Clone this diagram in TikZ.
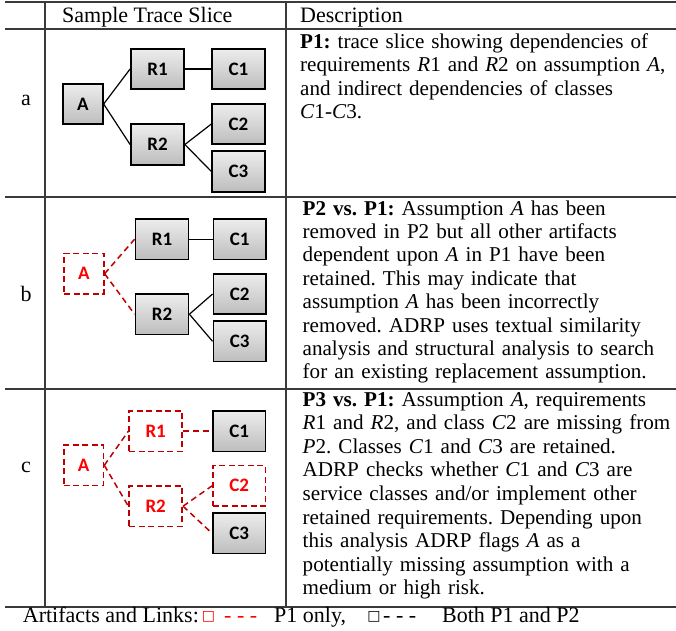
\documentclass[tikz,border=0pt]{standalone}
\usepackage{fontspec}
\setmainfont{Liberation Serif}
\newfontfamily\boxfont{Carlito}
\newfontfamily\symfont{DejaVu Sans}
\definecolor{dred}{HTML}{C00000}
\definecolor{lred}{HTML}{FF0000}
\definecolor{rulec}{HTML}{3A3A3A}
\definecolor{boxtop}{HTML}{EDEDED}
\definecolor{boxbot}{HTML}{BDBDBD}
\frenchspacing
\begin{document}
\begin{tikzpicture}[x=1pt,y=-1pt,
  bxfont/.style={font=\boxfont\bfseries\fontsize{19}{19}\selectfont},
  art/.style={bxfont,draw=black,line width=1.8pt,top color=boxtop,bottom color=boxbot,inner sep=0pt},
  gone/.style={bxfont,draw=dred,line width=1.7pt,dash pattern=on 6pt off 3.5pt,text=lred,inner sep=0pt},
  szA/.style={minimum width=39.5pt,minimum height=40.5pt},
  szR/.style={minimum width=53pt,minimum height=40.5pt},
  szC/.style={minimum width=52.5pt,minimum height=40.5pt},
  link/.style={draw=black,line width=1.2pt},
  glink/.style={draw=dred,line width=1.5pt,dash pattern=on 6pt off 4pt},
  tbl/.style={draw=rulec,line width=1.3pt},
  txt/.style={font=\fontsize{22}{23.5}\selectfont,inner sep=0pt},
  desc/.style={font=\fontsize{21.1}{23.4}\selectfont,inner sep=0pt,anchor=base west,text width=500pt,align=left},
  sq/.style={font=\symfont\fontsize{14}{14}\selectfont,inner sep=0pt},
]
\useasboundingbox (0,0) rectangle (676,630);

% table rules
\draw[tbl] (5,2) -- (676,2);
\draw[tbl] (5,29) -- (676,29);
\draw[tbl] (5,197) -- (676,197);
\draw[tbl] (5,389) -- (676,389);
\draw[tbl] (5,607) -- (676,607);
\draw[tbl] (45,2) -- (45,607);
\draw[tbl] (286,2) -- (286,607);

% header
\node[txt,anchor=base west] (h1) at (62,22) {Sample Trace Slice};
\node[txt,anchor=base west] (h2) at (300,22) {Description};

% row labels
\node[txt,anchor=base] (la) at (26,105) {a};
\node[txt,anchor=base] (lb) at (26,301) {b};
\node[txt,anchor=base] (lc) at (26,472) {c};

% row a
\node[art,szA] (aA) at (83,104) {A};
\node[art,szR] (aR1) at (157.5,69) {R1};
\node[art,szC] (aC1) at (238.5,69) {C1};
\node[art,szR] (aR2) at (157.5,144.5) {R2};
\node[art,szC] (aC2) at (238.5,124) {C2};
\node[art,szC] (aC3) at (238.5,171.5) {C3};
\draw[link] (aA.east) -- (aR1.west);
\draw[link] (aA.east) -- (aR2.west);
\draw[link] (aR1.east) -- (aC1.west);
\draw[link] (aR2.east) -- (aC2.west);
\draw[link] (aR2.east) -- (aC3.west);

% row b
\node[gone,szA] (bA) at (84,273.7) {A};
\node[art,szR] (bR1) at (162,239.2) {R1};
\node[art,szC] (bC1) at (239.7,239.2) {C1};
\node[art,szR] (bR2) at (162,314.2) {R2};
\node[art,szC] (bC2) at (239.7,294) {C2};
\node[art,szC] (bC3) at (239.7,341.3) {C3};
\draw[glink] (bA.east) -- (bR1.west);
\draw[glink] (bA.east) -- (bR2.west);
\draw[link] (bR1.east) -- (bC1.west);
\draw[link] (bR2.east) -- (bC2.west);
\draw[link] (bR2.east) -- (bC3.west);

% row c
\node[gone,szA] (cA) at (83.7,465.3) {A};
\node[gone,szR] (cR1) at (155.7,431.2) {R1};
\node[art,szC] (cC1) at (239.2,431.2) {C1};
\node[gone,szR] (cR2) at (155.7,506.2) {R2};
\node[gone,szC] (cC2) at (239.2,485.8) {C2};
\node[art,szC] (cC3) at (239.2,533.3) {C3};
\draw[glink] (cA.east) -- (cR1.west);
\draw[glink] (cA.east) -- (cR2.west);
\draw[glink] (cR1.east) -- (cC1.west);
\draw[glink] (cR2.east) -- (cC2.west);
\draw[glink] (cR2.east) -- (cC3.west);

% descriptions
\node[desc] (da) at (300,48.5) {\textbf{P1:} trace slice showing dependencies of\\
requirements \textit{R}1 and \textit{R}2 on assumption \textit{A},\\
and indirect dependencies of classes\\
\textit{C}1-\textit{C}3.};
\node[desc] (db) at (302.5,215) {\textbf{P2 vs. P1:} Assumption \textit{A} has been\\
removed in P2 but all other artifacts\\
dependent upon \textit{A} in P1 have been\\
retained. This may indicate that\\
assumption \textit{A} has been incorrectly\\
removed. ADRP uses textual similarity\\
analysis and structural analysis to search\\
for an existing replacement assumption.};
\node[desc,font=\fontsize{21.1}{23.6}\selectfont] (dc) at (302.5,406) {\textbf{P3 vs. P1:} Assumption \textit{A}, requirements\\
\textit{R}1 and \textit{R}2, and class \textit{C}2 are missing from\\
\textit{P}2. Classes \textit{C}1 and \textit{C}3 are retained.\\
ADRP checks whether \textit{C}1 and \textit{C}3 are\\
service classes and/or implement other\\
retained requirements. Depending upon\\
this analysis ADRP flags \textit{A} as a\\
potentially missing assumption with a\\
medium or high risk.};

% legend
\node[txt,anchor=base west] (lg1) at (22.7,622) {Artifacts and Links:};
\node[sq,text=lred] (lg2) at (208.5,617) {□};
\node[txt,anchor=base west,text=lred] (lg3) at (224,622) {- - -};
\node[txt,anchor=base west] (lg4) at (274,622) {P1 only,};
\node[sq] (lg5) at (374,617) {□};
\node[txt,anchor=base west] (lg6) at (383,622) {- - -};
\node[txt,anchor=base west] (lg7) at (442,622) {Both P1 and P2};
\end{tikzpicture}
\end{document}
